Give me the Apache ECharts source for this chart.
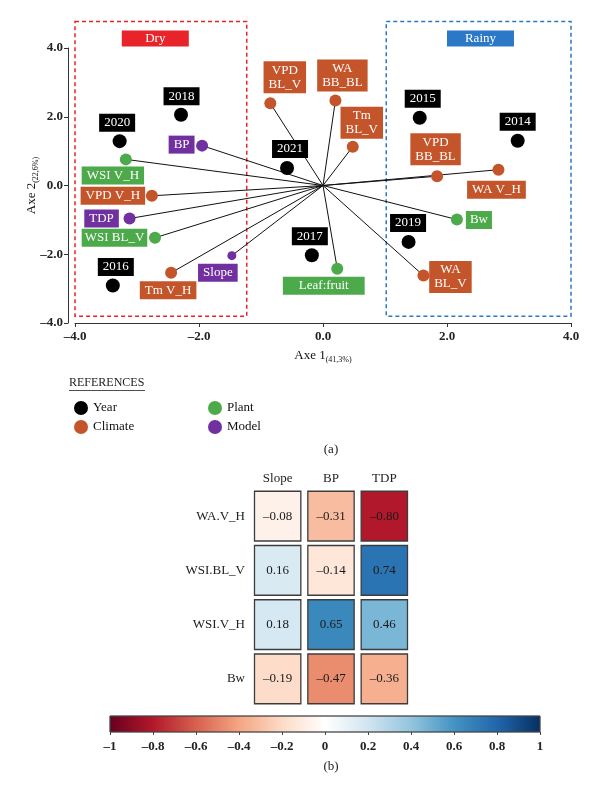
<!DOCTYPE html>
<html><head><meta charset="utf-8">
<script src="https://cdn.jsdelivr.net/npm/echarts@6/dist/echarts.min.js"></script>
<style>html,body{margin:0;padding:0;background:#fff}#c{width:600px;height:793px}</style>
</head><body><div id="c"></div>
<script>
// ---------- data ----------
const years = ['2014','2015','2016','2017','2018','2019','2020','2021'];
const yearX = [3.14, 1.56, -3.39, -0.18, -2.29, 1.38, -3.28, -0.58];
const yearY = [1.30, 1.97, -2.91, -2.03, 2.06, -1.64, 1.29, 0.51];

const climateNames = ['VPD\nBL_V','WA\nBB_BL','Tm\nBL_V','VPD\nBB_BL','WA V_H','WA\nBL_V','VPD V_H','Tm V_H'];
const climateX = [-0.85, 0.20, 0.48, 1.84, 2.83, 1.62, -2.76, -2.45];
const climateY = [2.39, 2.47, 1.13, 0.27, 0.46, -2.62, -0.30, -2.54];

const plantNames = ['WSI V_H','WSI BL_V','Bw','Leaf:fruit'];
const plantX = [-3.18, -2.71, 2.16, 0.23];
const plantY = [0.76, -1.52, -0.99, -2.42];

const modelNames = ['BP','TDP','Slope'];
const modelX = [-1.95, -3.12, -1.47];
const modelY = [1.16, -0.96, -2.04];

const axisTicks = [-4, -2, 0, 2, 4];

const hmCols = ['Slope','BP','TDP'];
const hmRows = ['WA.V_H','WSI.BL_V','WSI.V_H','Bw'];
const hmValues = [
  [-0.08, -0.31, -0.80],
  [ 0.16, -0.14,  0.74],
  [ 0.18,  0.65,  0.46],
  [-0.19, -0.47, -0.36]
];
const colorbarRange = [-1, 1];

const regionNames = ['Dry','Rainy'];
const regionX = [[-4.0, -1.23], [1.02, 4.0]];
const regionY = [[-3.80, 4.77], [-3.80, 4.77]];

// ---------- styles ----------
const SERIF = "'Liberation Serif','DejaVu Serif',serif";
const C_YEAR = '#000000', C_CLIM = '#c4552b', C_PLANT = '#4caa4a', C_MODEL = '#7030a0';
const RDBU = ['#67001f','#b2182b','#d6604d','#f4a582','#fddbc7','#ffffff','#d1e5f0','#92c5de','#4393c3','#2166ac','#053061'];
const regionColors = ['#e8232a', '#2a78c6'];
const regionLabelOffsetX = [-0.09, 0.03];

const yearOff = [[0,-19],[3,-19],[3,-18.5],[-2,-19],[0.5,-18.5],[-0.5,-19],[-2.5,-18.5],[3,-19]];
const climOff = [[14.5,-26],[7,-25],[9,-24],[-1.5,-27],[-2,20],[27,1.5],[-39,0],[-3,17.5]];
const plantOff = [[-13,16],[-40.5,0],[22,0.5],[-13.5,17]];
const plantPad = [[2,5],[2,3],[2,4],[2,16]];
const modelOff = [[-20.5,-1],[-28,0],[-14,17]];
const modelSize = [12,12,9];

const dash = s => s.replace('-', '\u2013');
const fmt1 = v => dash((Math.round(v*10)/10).toFixed(1));
const fmt2 = v => dash(v.toFixed(2));
const fmtBar = v => dash(String(Math.round(v*10)/10));

function pts(names, xs, ys, offs, pads, sizes){
  return names.map((n,i)=>{
    const d = {name:n, value:[xs[i], ys[i]], label:{offset:offs[i]}};
    if (pads) d.label.padding = pads[i];
    if (sizes) d.symbolSize = sizes[i];
    return d;
  });
}
function labelStyle(bg){
  return {show:true, position:'inside', formatter:'{b}', color:'#fff', fontFamily:SERIF,
    fontSize:13, lineHeight:14, backgroundColor:bg, padding:[2,5], align:'center'};
}
const vectors = [];
[[climateX,climateY],[plantX,plantY],[modelX,modelY]].forEach(([xs,ys])=>{
  xs.forEach((x,i)=>vectors.push({coords:[[0,0],[x, ys[i]]]}));
});
const hmData = [];
hmValues.forEach((row,r)=>row.forEach((v,c)=>hmData.push([c, r, v])));

const chart = echarts.init(document.getElementById('c'), null, {renderer:'canvas'});
const axisTxt = {fontFamily:SERIF, fontSize:13, color:'#222'};

const option = {
  animation:false,
  backgroundColor:'#fff',
  grid:[
    {left:75, top:48, width:496, height:275},
    {left:251, top:489, width:160, height:217},
    {left:110, top:716, width:430, height:16}
  ],
  xAxis:[
    {gridIndex:0, type:'value', min:axisTicks[0], max:axisTicks[axisTicks.length-1], interval:axisTicks[1]-axisTicks[0],
     axisLine:{onZero:false, lineStyle:{color:'#333', width:1}}, axisTick:{length:4, lineStyle:{color:'#333'}},
     splitLine:{show:false},
     axisLabel:Object.assign({formatter:fmt1, fontWeight:'bold', margin:7}, axisTxt),
     name:'Axe 1{s|(41,3%)}', nameLocation:'middle', nameGap:25, nameMoveOverlap:false,
     nameTextStyle:{fontFamily:SERIF, fontSize:13, color:'#111', rich:{s:{fontFamily:SERIF, fontSize:8, color:'#111', padding:[8,0,0,0]}}}},
    {gridIndex:1, type:'category', data:hmCols, position:'top',
     axisLine:{show:false}, axisTick:{show:false}, splitLine:{show:false},
     axisLabel:Object.assign({margin:4}, axisTxt)},
    {gridIndex:2, type:'value', min:colorbarRange[0], max:colorbarRange[1], interval:0.2,
     axisLine:{show:false}, axisTick:{show:true, length:3, lineStyle:{color:'#444'}}, splitLine:{show:false},
     axisLabel:Object.assign({formatter:fmtBar, margin:8, fontWeight:'bold'}, axisTxt)}
  ],
  yAxis:[
    {gridIndex:0, type:'value', min:axisTicks[0], max:axisTicks[axisTicks.length-1], interval:axisTicks[1]-axisTicks[0], offset:7,
     axisLine:{show:true, onZero:false, lineStyle:{color:'#333', width:1}}, axisTick:{show:true, length:4, lineStyle:{color:'#333'}},
     splitLine:{show:false},
     axisLabel:Object.assign({formatter:fmt1, fontWeight:'bold', margin:5}, axisTxt),
     name:'Axe 2{s|(22,6%)}', nameLocation:'middle', nameGap:28, nameRotate:90, nameMoveOverlap:false,
     nameTextStyle:{fontFamily:SERIF, fontSize:13, color:'#111', rich:{s:{fontFamily:SERIF, fontSize:8, color:'#111', padding:[8,0,0,0]}}}},
    {gridIndex:1, type:'category', data:hmRows, inverse:true,
     axisLine:{show:false}, axisTick:{show:false}, splitLine:{show:false},
     axisLabel:Object.assign({margin:6}, axisTxt)},
    {gridIndex:2, type:'value', min:0, max:1, show:false}
  ],
  legend:[
    {data:['Year','Climate'], orient:'vertical', left:69, top:396, itemWidth:14, itemHeight:14, itemGap:5, icon:'circle',
     textStyle:{fontFamily:SERIF, fontSize:13, color:'#111'}},
    {data:['Plant','Model'], orient:'vertical', left:203, top:396, itemWidth:14, itemHeight:14, itemGap:5, icon:'circle',
     textStyle:{fontFamily:SERIF, fontSize:13, color:'#111'}}
  ],
  visualMap:{type:'continuous', show:false, min:colorbarRange[0], max:colorbarRange[1], dimension:2, seriesIndex:5, inRange:{color:RDBU}},
  series:[
    {type:'lines', name:'vectors', coordinateSystem:'cartesian2d', xAxisIndex:0, yAxisIndex:0, silent:true, z:1,
     lineStyle:{color:'#111', width:1, opacity:1}, data:vectors},
    {type:'scatter', name:'Year', xAxisIndex:0, yAxisIndex:0, symbolSize:14, z:3, itemStyle:{color:C_YEAR, opacity:1},
     label:labelStyle(C_YEAR), data:pts(years, yearX, yearY, yearOff)},
    {type:'scatter', name:'Climate', xAxisIndex:0, yAxisIndex:0, symbolSize:12, z:3, itemStyle:{color:C_CLIM, opacity:1},
     label:labelStyle(C_CLIM), data:pts(climateNames, climateX, climateY, climOff)},
    {type:'scatter', name:'Plant', xAxisIndex:0, yAxisIndex:0, symbolSize:12, z:3, itemStyle:{color:C_PLANT, opacity:1},
     label:labelStyle(C_PLANT), data:pts(plantNames, plantX, plantY, plantOff, plantPad)},
    {type:'scatter', name:'Model', xAxisIndex:0, yAxisIndex:0, symbolSize:12, z:3, itemStyle:{color:C_MODEL, opacity:1},
     label:labelStyle(C_MODEL), data:pts(modelNames, modelX, modelY, modelOff, null, modelSize)},
    {type:'custom', name:'corr', xAxisIndex:1, yAxisIndex:1, data:hmData, encode:{x:0, y:1},
     renderItem:function(params, api){
       const c = api.coord([api.value(0), api.value(1)]);
       const s = api.size([1,1]);
       const w = s[0]-7, h = s[1]-4.5;
       return {type:'group', children:[
         {type:'rect', shape:{x:c[0]-w/2, y:c[1]-h/2, width:w, height:h},
          style:{fill:api.visual('color'), stroke:'#3c3c3c', lineWidth:1.3}},
         {type:'text', x:c[0], y:c[1], style:{text:fmt2(api.value(2)), align:'center', verticalAlign:'middle',
          fill:'#1a1a1a', font:'13px ' + SERIF}}
       ]};
     }},
    {type:'custom', name:'colorbar', xAxisIndex:2, yAxisIndex:2, data:[[colorbarRange[0], colorbarRange[1]]],
     encode:{x:[0,1]}, silent:true,
     renderItem:function(params, api){
       const p0 = api.coord([api.value(0), 0]);
       const p1 = api.coord([api.value(1), 1]);
       const stops = RDBU.map((col,i)=>({offset:i/(RDBU.length-1), color:col}));
       return {type:'rect', shape:{x:p0[0], y:p1[1], width:p1[0]-p0[0], height:p0[1]-p1[1]},
         style:{fill:new echarts.graphic.LinearGradient(0,0,1,0,stops), stroke:'#444', lineWidth:0.8}};
     }}
  ]
};
chart.setOption(option);

// annotations placed via the scatter grid's scale
const g = [];
regionNames.forEach((nm,i)=>{
  const a = chart.convertToPixel({gridIndex:0}, [regionX[i][0], regionY[i][1]]);
  const b = chart.convertToPixel({gridIndex:0}, [regionX[i][1], regionY[i][0]]);
  g.push({type:'rect', shape:{x:a[0], y:a[1], width:b[0]-a[0], height:b[1]-a[1]}, z:0,
    style:{fill:null, stroke:regionColors[i], lineWidth:1.5, lineDash:[4,3]}});
  const cx = (a[0]+b[0])/2 + regionLabelOffsetX[i]*62;
  const cy = a[1] + 17;
  g.push({type:'rect', shape:{x:cx-33.5, y:cy-8, width:67, height:16}, style:{fill:regionColors[i]}, z:5});
  g.push({type:'text', x:cx, y:cy, z:6, style:{text:nm, align:'center', verticalAlign:'middle', fill:'#fff', font:'13px ' + SERIF}});
});
g.push({type:'text', x:69, y:383, style:{text:'REFERENCES', align:'left', verticalAlign:'middle', fill:'#222', font:'12px ' + SERIF}});
g.push({type:'line', shape:{x1:69, y1:390.5, x2:145, y2:390.5}, style:{stroke:'#222', lineWidth:0.8}});
g.push({type:'text', x:331, y:450, style:{text:'(a)', align:'center', verticalAlign:'middle', fill:'#222', font:'13px ' + SERIF}});
g.push({type:'text', x:331, y:767, style:{text:'(b)', align:'center', verticalAlign:'middle', fill:'#222', font:'13px ' + SERIF}});
chart.setOption({graphic:g});
</script></body></html>
